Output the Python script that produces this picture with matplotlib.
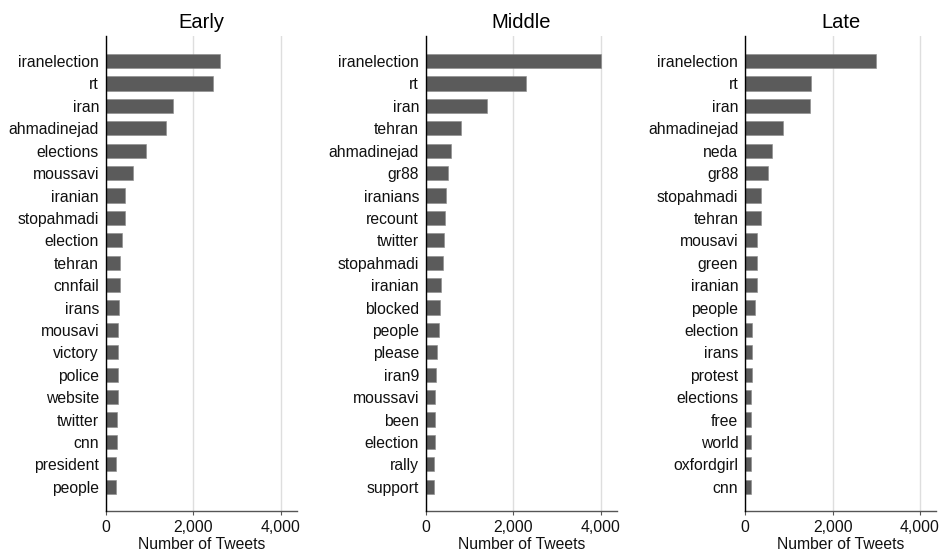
import matplotlib
matplotlib.use("Agg")
import matplotlib.pyplot as plt
from matplotlib.ticker import FuncFormatter

plt.rcParams['font.family'] = ['Liberation Sans', 'DejaVu Sans']

titles = ["Early", "Middle", "Late"]

early_words = ["iranelection", "rt", "iran", "ahmadinejad", "elections", "moussavi",
               "iranian", "stopahmadi", "election", "tehran", "cnnfail", "irans",
               "mousavi", "victory", "police", "website", "twitter", "cnn",
               "president", "people"]
early_counts = [2611, 2443, 1534, 1366, 924, 618, 443, 435, 374, 328, 328, 298,
                282, 282, 275, 267, 252, 252, 221, 221]

middle_words = ["iranelection", "rt", "iran", "tehran", "ahmadinejad", "gr88",
                "iranians", "recount", "twitter", "stopahmadi", "iranian", "blocked",
                "people", "please", "iran9", "moussavi", "been", "election",
                "rally", "support"]
middle_counts = [4000, 2282, 1404, 794, 572, 511, 450, 443, 420, 397, 336, 328,
                 290, 244, 221, 206, 206, 206, 191, 183]

late_words = ["iranelection", "rt", "iran", "ahmadinejad", "neda", "gr88",
              "stopahmadi", "tehran", "mousavi", "green", "iranian", "people",
              "election", "irans", "protest", "elections", "free", "world",
              "oxfordgirl", "cnn"]
late_counts = [2992, 1504, 1488, 870, 618, 511, 366, 351, 267, 260, 260, 214,
               160, 153, 145, 137, 137, 137, 130, 122]

x_ticks = [0, 2000, 4000]
x_label = "Number of Tweets"

panels = [(early_words, early_counts), (middle_words, middle_counts),
          (late_words, late_counts)]

fig = plt.figure(figsize=(9.41, 5.52), dpi=100)
lefts = [106 / 941, 426 / 941, 745.3 / 941]
width = 190.7 / 941
bottom = 1 - 510.7 / 552
height = (510.7 - 36) / 552

bar_color = "#5b5b5b"
fs = 11.3

for left, title, (words, counts) in zip(lefts, titles, panels):
    ax = fig.add_axes([left, bottom, width, height])
    ypos = list(range(len(words)))
    ax.barh(ypos, counts, height=0.63, color=bar_color, edgecolor="#8a8a8a",
            linewidth=0.4, zorder=3)
    ax.set_yticks(ypos)
    ax.set_yticklabels(words, fontsize=fs, color="#111111")
    ax.set_ylim(len(words) - 1 + 1.07, -1.12)
    ax.set_xlim(0, 4370)
    ax.set_xticks(x_ticks)
    ax.xaxis.set_major_formatter(FuncFormatter(lambda v, p: f"{int(v):,}"))
    ax.tick_params(axis='x', labelsize=fs, length=3, width=0.8, color="#555555",
                   pad=3.5, labelcolor="#111111")
    ax.tick_params(axis='y', length=0, pad=5)
    ax.grid(axis='x', color="#dedede", linewidth=1.0, zorder=0)
    ax.set_axisbelow(True)
    for s in ("top", "right"):
        ax.spines[s].set_visible(False)
    ax.spines['left'].set_color("#000000")
    ax.spines['left'].set_linewidth(1.0)
    ax.spines['left'].set_zorder(4)
    ax.spines['bottom'].set_color("#555555")
    ax.spines['bottom'].set_linewidth(1.0)
    ax.set_xlabel(x_label, fontsize=fs, labelpad=1.5, color="#111111")
    ax.set_title(title, fontsize=14.5, pad=6)

fig.savefig("out.png", dpi=100)
